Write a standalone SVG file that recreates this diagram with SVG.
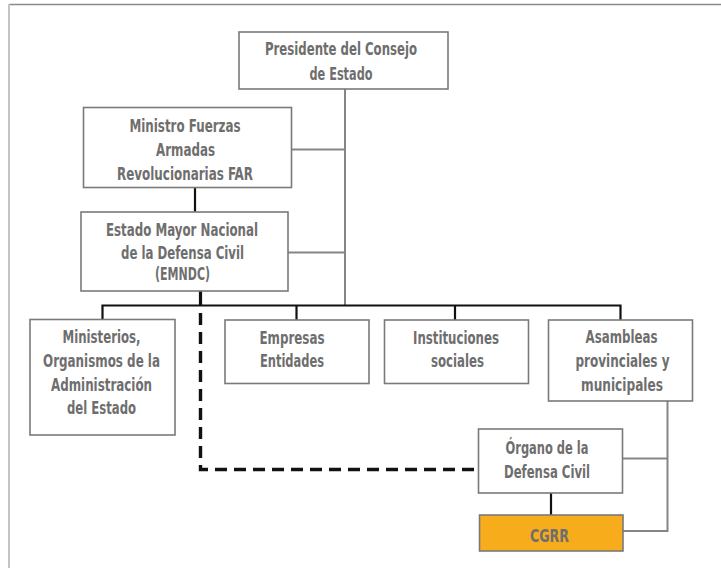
<svg xmlns="http://www.w3.org/2000/svg" width="721" height="568" viewBox="0 0 721 568">
<style>
.box{fill:#ffffff;stroke:#7a7a7a;stroke-width:1.6}
.hl{fill:#f7ac1c;stroke:#7a7a7a;stroke-width:1.6}
.t{font-family:"Liberation Sans Narrow","DejaVu Sans Condensed","Liberation Sans",sans-serif;font-weight:bold;font-size:18.5px;fill:#6e6e6e;text-anchor:middle}
.g{fill:none;stroke:#858585;stroke-width:2}
.k{fill:none;stroke:#111111;stroke-width:2.2}
.kt{fill:none;stroke:#111111;stroke-width:3.2}
.d{fill:none;stroke:#111111;stroke-width:3.4;stroke-dasharray:12 7}
</style>
<rect x="0" y="0" width="721" height="568" fill="#ffffff"/>
<line x1="9" y1="4.5" x2="721" y2="4.5" stroke="#8a8a8a" stroke-width="1.5"/>
<line x1="9" y1="4" x2="9" y2="568" stroke="#c4c4c4" stroke-width="2"/>
<g id="connectors">
<path class="g" d="M345,89 V305"/>
<path class="g" d="M292,149.5 H345"/>
<path class="g" d="M288,252.5 H345"/>
<path class="g" d="M667.5,401 V531 H623"/>
<path class="g" d="M622.5,458.5 H667.5"/>
<path class="k" d="M195,187 V212"/>
<path class="kt" d="M200.5,291 V306"/>
<path class="k" d="M102.5,319 V305.5 H620.5 V320"/>
<path class="k" d="M296.5,305.5 V320"/>
<path class="k" d="M455,305.5 V320"/>
<path class="d" d="M200.5,313 V469.5 H479"/>
<path class="k" d="M551,493 V515"/>
</g>
<g id="presidente">
<rect class="box" x="239" y="32" width="209" height="57"/>
<text class="t" x="341" y="54.5" textLength="152" lengthAdjust="spacingAndGlyphs">Presidente del Consejo</text>
<text class="t" x="341" y="80" textLength="63" lengthAdjust="spacingAndGlyphs">de Estado</text>
</g>
<g id="ministro">
<rect class="box" x="83.5" y="107.5" width="208" height="80"/>
<text class="t" x="185" y="132" textLength="111" lengthAdjust="spacingAndGlyphs">Ministro Fuerzas</text>
<text class="t" x="185.5" y="155.5" textLength="59" lengthAdjust="spacingAndGlyphs">Armadas</text>
<text class="t" x="185" y="179.5" textLength="136" lengthAdjust="spacingAndGlyphs">Revolucionarias FAR</text>
</g>
<g id="emndc">
<rect class="box" x="81" y="212" width="207" height="79"/>
<text class="t" x="182" y="235.5" textLength="152" lengthAdjust="spacingAndGlyphs">Estado Mayor Nacional</text>
<text class="t" x="182.5" y="259" textLength="123" lengthAdjust="spacingAndGlyphs">de la Defensa Civil</text>
<text class="t" x="182.5" y="280" textLength="55" lengthAdjust="spacingAndGlyphs">(EMNDC)</text>
</g>
<g id="ministerios">
<rect class="box" x="30" y="319.5" width="145" height="115.5"/>
<text class="t" x="101.5" y="343" textLength="78" lengthAdjust="spacingAndGlyphs">Ministerios,</text>
<text class="t" x="101.5" y="366.5" textLength="117" lengthAdjust="spacingAndGlyphs">Organismos de la</text>
<text class="t" x="101.5" y="390.5" textLength="101" lengthAdjust="spacingAndGlyphs">Administración</text>
<text class="t" x="101.5" y="413.5" textLength="69" lengthAdjust="spacingAndGlyphs">del Estado</text>
</g>
<g id="empresas">
<rect class="box" x="225" y="320" width="144" height="63.5"/>
<text class="t" x="292" y="344" textLength="65" lengthAdjust="spacingAndGlyphs">Empresas</text>
<text class="t" x="292" y="367" textLength="64" lengthAdjust="spacingAndGlyphs">Entidades</text>
</g>
<g id="instituciones">
<rect class="box" x="384.5" y="320" width="144" height="63.5"/>
<text class="t" x="456" y="344" textLength="86" lengthAdjust="spacingAndGlyphs">Instituciones</text>
<text class="t" x="457.5" y="367" textLength="53" lengthAdjust="spacingAndGlyphs">sociales</text>
</g>
<g id="asambleas">
<rect class="box" x="548.5" y="320" width="144" height="81"/>
<text class="t" x="621.5" y="343" textLength="72" lengthAdjust="spacingAndGlyphs">Asambleas</text>
<text class="t" x="622.5" y="367" textLength="94" lengthAdjust="spacingAndGlyphs">provinciales y</text>
<text class="t" x="622" y="391" textLength="82" lengthAdjust="spacingAndGlyphs">municipales</text>
</g>
<g id="organo">
<rect class="box" x="478.5" y="429" width="144" height="64"/>
<text class="t" x="547" y="453.5" textLength="83" lengthAdjust="spacingAndGlyphs">Órgano de la</text>
<text class="t" x="547" y="477.5" textLength="86" lengthAdjust="spacingAndGlyphs">Defensa Civil</text>
</g>
<g id="cgrr">
<rect class="hl" x="479.5" y="515" width="143.5" height="36"/>
<text class="t" x="549.5" y="542" textLength="39" lengthAdjust="spacingAndGlyphs">CGRR</text>
</g>
</svg>
